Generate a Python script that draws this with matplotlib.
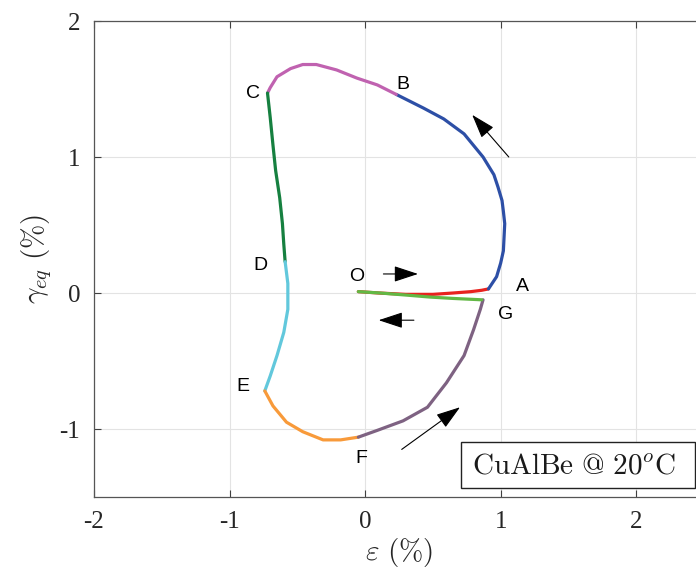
import matplotlib
matplotlib.use("Agg")
import matplotlib.pyplot as plt
from matplotlib.patches import Rectangle

plt.rcParams['mathtext.fontset'] = 'cm'

# ---- data (strain eps %, gamma_eq %) for each branch ----
OA_x = [-0.05, 0.10, 0.30, 0.50, 0.65, 0.78, 0.86, 0.91]
OA_y = [0.01, 0.00, -0.01, -0.01, 0.00, 0.01, 0.02, 0.03]

AB_x = [0.91, 0.97, 1.00, 1.02, 1.03, 1.02, 1.01, 0.98, 0.95, 0.87, 0.73, 0.58, 0.43, 0.23]
AB_y = [0.03, 0.12, 0.22, 0.31, 0.51, 0.60, 0.68, 0.78, 0.87, 1.00, 1.17, 1.28, 1.36, 1.46]

BC_x = [0.23, 0.09, -0.06, -0.21, -0.36, -0.46, -0.55, -0.65, -0.70, -0.72]
BC_y = [1.46, 1.53, 1.58, 1.64, 1.68, 1.68, 1.65, 1.59, 1.51, 1.47]

CD_x = [-0.72, -0.70, -0.68, -0.66, -0.63, -0.61, -0.60, -0.59]
CD_y = [1.47, 1.29, 1.09, 0.90, 0.70, 0.51, 0.36, 0.23]

DE_x = [-0.59, -0.57, -0.57, -0.60, -0.65, -0.70, -0.74]
DE_y = [0.23, 0.07, -0.12, -0.29, -0.46, -0.61, -0.72]

EF_x = [-0.74, -0.68, -0.58, -0.46, -0.31, -0.18, -0.05]
EF_y = [-0.72, -0.83, -0.95, -1.02, -1.08, -1.08, -1.06]

FG_x = [-0.05, 0.09, 0.28, 0.46, 0.60, 0.73, 0.80, 0.85, 0.87]
FG_y = [-1.06, -1.01, -0.94, -0.84, -0.66, -0.46, -0.27, -0.12, -0.05]

GO_x = [0.86, 0.65, 0.48, 0.30, 0.11, -0.05]
GO_y = [-0.05, -0.04, -0.03, -0.015, 0.00, 0.01]

branches = [
    (OA_x, OA_y, '#e8221e'),
    (AB_x, AB_y, '#2d4fa6'),
    (BC_x, BC_y, '#c062b0'),
    (CD_x, CD_y, '#168040'),
    (DE_x, DE_y, '#62c8dc'),
    (EF_x, EF_y, '#f89a3a'),
    (FG_x, FG_y, '#7e6282'),
    (GO_x, GO_y, '#62b844'),
]

point_labels = ['O', 'A', 'B', 'C', 'D', 'E', 'F', 'G']
label_x = [-0.06, 1.16, 0.28, -0.83, -0.77, -0.90, -0.03, 1.04]
label_y = [0.12, 0.05, 1.53, 1.47, 0.20, -0.69, -1.22, -0.16]

# arrows: (tail_x, tail_y, head_x, head_y)
arrows = [
    (0.135, 0.14, 0.39, 0.14),
    (0.36, -0.20, 0.10, -0.20),
    (1.06, 1.00, 0.79, 1.31),
    (0.27, -1.15, 0.70, -0.84),
]

xticks = [-2, -1, 0, 1, 2]
yticks = [-1, 0, 1, 2]

fig = plt.figure(figsize=(6.96, 5.84), dpi=100)
W, H = 696, 584
ax_left, ax_right, ax_top, ax_bot = 94, 704, 21, 497
ax = fig.add_axes([ax_left / W, (H - ax_bot) / H, (ax_right - ax_left) / W, (ax_bot - ax_top) / H])

for xs, ys, c in branches:
    ax.plot(xs, ys, color=c, lw=2.3, solid_capstyle='round', solid_joinstyle='round', zorder=3)

for lab, lx, ly in zip(point_labels, label_x, label_y):
    ax.text(lx, ly, lab, family='Liberation Sans', fontsize=14, ha='center', va='center', zorder=4)

for tx, ty, hx, hy in arrows:
    ax.annotate('', xy=(hx, hy), xytext=(tx, ty),
                arrowprops=dict(arrowstyle='-|>,head_length=1.0,head_width=0.33',
                                lw=0.8, color='k', mutation_scale=15,
                                shrinkA=0, shrinkB=0), zorder=5)

ax.set_xlim(-2, 2.5)
ax.set_ylim(-1.5, 2)
ax.set_xticks(xticks)
ax.set_yticks(yticks)
ax.set_xticklabels([str(t) for t in xticks])
ax.set_yticklabels([str(t) for t in yticks])
for lbl in ax.get_xticklabels() + ax.get_yticklabels():
    lbl.set_family('Liberation Serif')
    lbl.set_fontsize(18)
    lbl.set_color('#262626')
ax.tick_params(direction='in', length=5, width=0.8, color='#404040', top=True, right=True, pad=10)
ax.grid(True, color='#e3e3e3', lw=0.8, zorder=0)
ax.set_axisbelow(True)
for s in ax.spines.values():
    s.set_color('#555555')
    s.set_linewidth(0.9)

ax.set_xlabel(r'$\varepsilon\ (\%)$', fontsize=21, color='#262626', labelpad=2)
ax.set_ylabel(r'$\gamma_{eq}\ (\%)$', fontsize=21, color='#262626', labelpad=4)

# annotation box
bx0 = (461 - ax_left) / (ax_right - ax_left)
by0 = (ax_bot - 488) / (ax_bot - ax_top)
bw = (695 - 461) / (ax_right - ax_left)
bh = (488 - 442) / (ax_bot - ax_top)
ax.add_patch(Rectangle((bx0, by0), bw, bh, transform=ax.transAxes, fill=True,
                       facecolor='white', edgecolor='#222222', lw=1.0, zorder=6, clip_on=False))
ax.text((472 - ax_left) / (ax_right - ax_left), (ax_bot - 466) / (ax_bot - ax_top),
        r'$\mathrm{CuAlBe\ @\ 20}^{o}\mathrm{C}$', transform=ax.transAxes, fontsize=21,
        ha='left', va='center', zorder=7, color='#1a1a1a')

fig.savefig('out.png', dpi=100)
